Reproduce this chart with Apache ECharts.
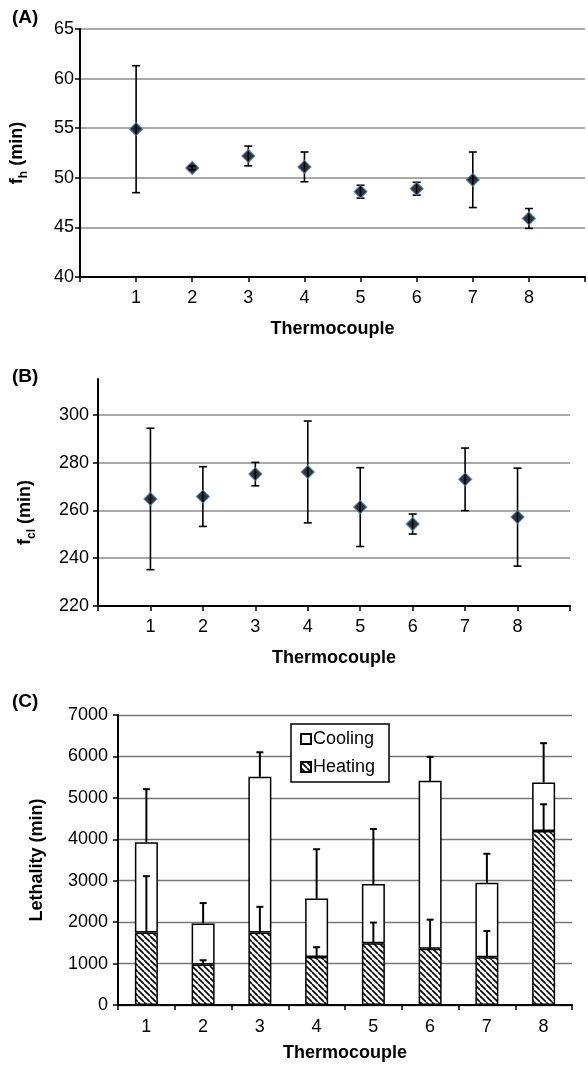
<!DOCTYPE html>
<html>
<head>
<meta charset="utf-8">
<script src="https://cdn.jsdelivr.net/npm/echarts@6/dist/echarts.min.js"></script>
<style>
html,body{margin:0;padding:0;background:#fff;}
#c{width:588px;height:1066px;}
</style>
</head>
<body>
<div id="c"></div>
<script>
// ---- data ----
const thermocouples = [1, 2, 3, 4, 5, 6, 7, 8];
const xTickLabels = ['1', '2', '3', '4', '5', '6', '7', '8'];
// (A) heating rate index f_h (min), mean and SD
const fh = [54.9, 51.0, 52.2, 51.1, 48.6, 48.9, 49.8, 45.9];
const fhSD = [6.4, 0.2, 1.0, 1.5, 0.65, 0.65, 2.8, 1.0];
// (B) cooling rate index f_cl (min), mean and SD
const fcl = [264.8, 265.8, 275.2, 276.1, 261.4, 254.3, 273.0, 257.2];
const fclSD = [29.6, 12.5, 4.9, 21.3, 16.5, 4.2, 13.1, 20.5];
// (C) lethality (min): heating part, cooling part (stacked), SDs
const heating = [1750, 980, 1750, 1160, 1490, 1360, 1150, 4200];
const heatingSD = [1360, 100, 620, 235, 500, 700, 635, 645];
const cooling = [2180, 990, 3760, 1410, 1430, 4050, 1800, 1170];
const totalSD = [1280, 490, 590, 1190, 1330, 580, 700, 950];

// ---- hatch pattern ----
function hatch() {
  const s = 6;
  const cv = document.createElement('canvas');
  cv.width = s; cv.height = s;
  const ctx = cv.getContext('2d');
  ctx.fillStyle = '#fff';
  ctx.fillRect(0, 0, s, s);
  ctx.strokeStyle = '#000';
  ctx.lineWidth = 1.6;
  ctx.beginPath();
  for (const k of [-s, 0, s]) { ctx.moveTo(k, 0); ctx.lineTo(k + s, s); }
  ctx.stroke();
  return { image: cv, repeat: 'repeat' };
}

const FONT = 'Liberation Sans, Arial, sans-serif';
const txt = { fontFamily: FONT, fontSize: 18, color: '#000' };
const axisLine = { show: true, lineStyle: { color: '#000', width: 2 } };
const axisTick = { show: true, length: 5, lineStyle: { color: '#000', width: 1.5 } };

function errBoth(params, api) {
  const x = api.value(0), y = api.value(1), e = api.value(2);
  const hi = api.coord([x, y + e]), lo = api.coord([x, y - e]);
  const w = 4;
  const style = { stroke: '#000', lineWidth: 1.6 };
  return { type: 'group', children: [
    { type: 'line', shape: { x1: hi[0], y1: hi[1], x2: lo[0], y2: lo[1] }, style },
    { type: 'line', shape: { x1: hi[0] - w, y1: hi[1], x2: hi[0] + w, y2: hi[1] }, style },
    { type: 'line', shape: { x1: lo[0] - w, y1: lo[1], x2: lo[0] + w, y2: lo[1] }, style }
  ]};
}
function errUp(params, api) {
  const x = api.value(0), y = api.value(1), e = api.value(2);
  const b = api.coord([x, y]), hi = api.coord([x, y + e]);
  const w = 3.5;
  const style = { stroke: '#000', lineWidth: 2 };
  return { type: 'group', children: [
    { type: 'line', shape: { x1: b[0], y1: b[1], x2: hi[0], y2: hi[1] }, style },
    { type: 'line', shape: { x1: hi[0] - w, y1: hi[1], x2: hi[0] + w, y2: hi[1] }, style }
  ]};
}

function valX(gi, gap) {
  return {
    type: 'value', gridIndex: gi, min: 0, max: 9, interval: 1,
    axisLine, axisTick,
    axisLabel: Object.assign({ margin: 12, formatter: v => (v >= 1 && v <= 8 ? xTickLabels[v - 1] : '') }, txt),
    splitLine: { show: false },
    name: 'Thermocouple', nameLocation: 'middle', nameGap: gap,
    nameTextStyle: Object.assign({}, txt, { fontWeight: 'bold' })
  };
}
function yName(main, sub, gap, pad) {
  return {
    name: '{b|' + main + '}{s|' + sub + '}{b|' + '\u00a0(min)}',
    nameLocation: 'middle', nameGap: gap,
    nameTextStyle: {
      padding: pad || 0,
      rich: {
        b: { fontFamily: FONT, fontSize: 18, fontWeight: 'bold', color: '#000', lineHeight: 26, verticalAlign: 'middle' },
        s: { fontFamily: FONT, fontSize: 12, fontWeight: 'bold', color: '#000', lineHeight: 12, verticalAlign: 'bottom' }
      }
    }
  };
}

const chart = echarts.init(document.getElementById('c'), null, { renderer: 'canvas' });
chart.setOption({
  animation: false,
  backgroundColor: '#fff',
  grid: [
    { left: 79, top: 29, width: 509, height: 248 },
    { left: 98, top: 379, width: 472, height: 227 },
    { left: 118, top: 715, width: 454, height: 290 }
  ],
  xAxis: [
    valX(0, 43),
    valX(1, 43),
    {
      type: 'category', gridIndex: 2, data: xTickLabels,
      axisLine, axisTick: Object.assign({ alignWithLabel: false }, axisTick),
      axisLabel: Object.assign({ margin: 13 }, txt),
      name: 'Thermocouple', nameLocation: 'middle', nameGap: 39,
      nameTextStyle: Object.assign({}, txt, { fontWeight: 'bold' })
    }
  ],
  yAxis: [
    Object.assign({
      type: 'value', gridIndex: 0, min: 40, max: 65, interval: 5,
      axisLine, axisTick,
      axisLabel: Object.assign({ margin: 6 }, txt),
      splitLine: { show: true, lineStyle: { color: '#8c8c8c', width: 1.5 } }
    }, yName('f', 'h', 50)),
    Object.assign({
      type: 'value', gridIndex: 1, min: 220, max: 315, interval: 20,
      axisLine, axisTick,
      axisLabel: Object.assign({ margin: 9, showMaxLabel: false }, txt),
      splitLine: { show: true, showMaxLine: false, lineStyle: { color: '#8c8c8c', width: 1.5 } }
    }, yName('f', 'cl', 60, [0, 40, 0, 0])),
    {
      type: 'value', gridIndex: 2, min: 0, max: 7000, interval: 1000,
      axisLine, axisTick,
      axisLabel: Object.assign({ margin: 10, formatter: v => String(v) }, txt),
      splitLine: { show: true, lineStyle: { color: '#777', width: 1.3 } },
      name: 'Lethality (min)', nameLocation: 'middle', nameGap: 72,
      nameTextStyle: Object.assign({}, txt, { fontWeight: 'bold' })
    }
  ],
  legend: {
    data: ['Cooling', 'Heating'],
    orient: 'vertical', left: 291, top: 724,
    padding: [6, 14, 6, 9], itemGap: 10, itemWidth: 10, itemHeight: 10,
    icon: 'rect',
    textStyle: Object.assign({ padding: [0, 0, 0, -3] }, txt),
    borderColor: '#000', borderWidth: 1.5, backgroundColor: '#fff',
    selectedMode: false, z: 20
  },
  graphic: [
    { type: 'text', left: 12, top: 8, style: { text: '(A)', font: 'bold 19px ' + FONT, fill: '#000' } },
    { type: 'text', left: 12, top: 367, style: { text: '(B)', font: 'bold 19px ' + FONT, fill: '#000' } },
    { type: 'text', left: 12, top: 692, style: { text: '(C)', font: 'bold 19px ' + FONT, fill: '#000' } }
  ],
  series: [
    { type: 'custom', xAxisIndex: 0, yAxisIndex: 0, renderItem: errBoth, z: 3,
      data: thermocouples.map((t, i) => [t, fh[i], fhSD[i]]) },
    { type: 'scatter', xAxisIndex: 0, yAxisIndex: 0, symbol: 'diamond', symbolSize: [13, 13], z: 5,
      itemStyle: { color: '#000', borderColor: '#4a7ebb', borderWidth: 1.2 },
      data: thermocouples.map((t, i) => [t, fh[i]]) },
    { type: 'custom', xAxisIndex: 1, yAxisIndex: 1, renderItem: errBoth, z: 3,
      data: thermocouples.map((t, i) => [t, fcl[i], fclSD[i]]) },
    { type: 'scatter', xAxisIndex: 1, yAxisIndex: 1, symbol: 'diamond', symbolSize: [13, 13], z: 5,
      itemStyle: { color: '#000', borderColor: '#4a7ebb', borderWidth: 1.2 },
      data: thermocouples.map((t, i) => [t, fcl[i]]) },
    { name: 'Heating', type: 'bar', xAxisIndex: 2, yAxisIndex: 2, stack: 'L', barWidth: 23,
      itemStyle: { color: hatch(), borderColor: '#000', borderWidth: 1.5 },
      data: heating },
    { name: 'Cooling', type: 'bar', xAxisIndex: 2, yAxisIndex: 2, stack: 'L', barWidth: 23,
      itemStyle: { color: '#fff', borderColor: '#000', borderWidth: 1.5 },
      data: cooling },
    { type: 'custom', xAxisIndex: 2, yAxisIndex: 2, renderItem: errUp, z: 6,
      data: thermocouples.map((t, i) => [i, heating[i] + cooling[i], totalSD[i]]) },
    { type: 'custom', xAxisIndex: 2, yAxisIndex: 2, renderItem: errUp, z: 6,
      data: thermocouples.map((t, i) => [i, heating[i], heatingSD[i]]) }
  ]
});
</script>
</body>
</html>
